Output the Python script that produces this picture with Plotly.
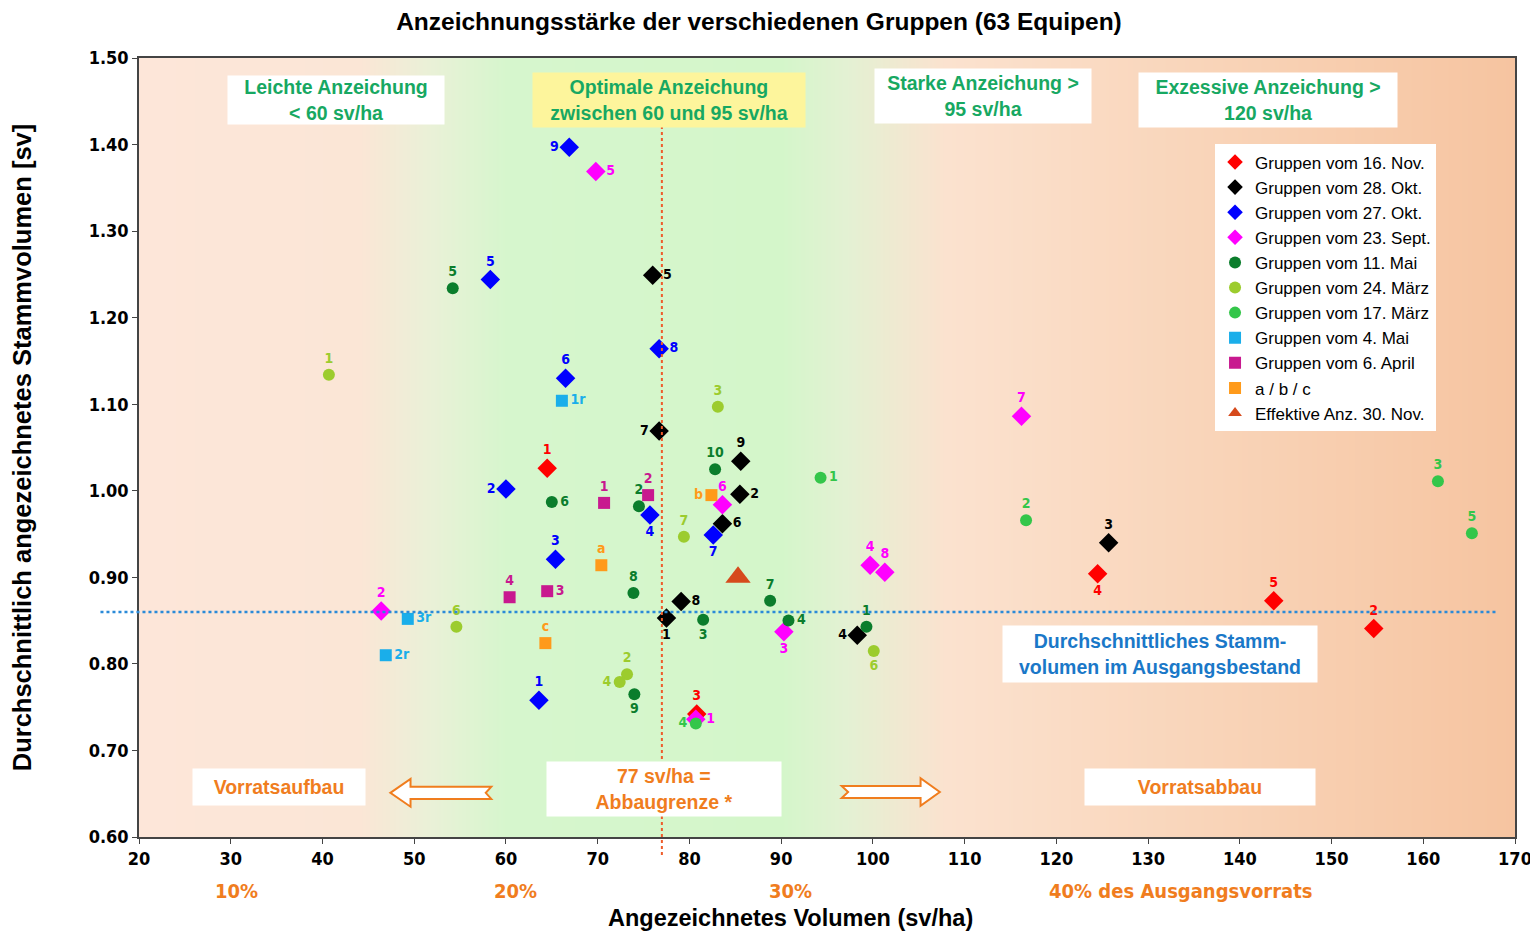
import plotly.graph_objects as go

# --- data -----------------------------------------------------------------
nov16_x = [64.5, 154.6, 80.8, 124.5, 143.7]
nov16_y = [1.026, 0.841, 0.742, 0.904, 0.873]
nov16_lbl = ["1", "2", "3", "4", "5"]

okt28_x = [77.5, 85.5, 125.7, 98.3, 76.0, 83.6, 76.7, 79.1, 85.6]
okt28_y = [0.853, 0.996, 0.940, 0.833, 1.249, 0.962, 1.069, 0.872, 1.034]
okt28_lbl = ["1", "2", "3", "4", "5", "6", "7", "8", "9"]

okt27_x = [63.6, 60.0, 65.4, 75.7, 58.3, 66.5, 82.6, 76.7, 66.9]
okt27_y = [0.758, 1.002, 0.921, 0.972, 1.244, 1.130, 0.949, 1.164, 1.397]
okt27_lbl = ["1", "2", "3", "4", "5", "6", "7", "8", "9"]

sept23_x = [80.7, 46.4, 90.3, 99.7, 69.8, 83.6, 116.2, 101.3]
sept23_y = [0.736, 0.861, 0.837, 0.914, 1.369, 0.984, 1.086, 0.906]
sept23_lbl = ["1", "2", "3", "4", "5", "6", "7", "8"]

mai11_x = [99.3, 74.5, 81.5, 90.8, 54.2, 65.0, 88.8, 73.9, 74.0, 82.8]
mai11_y = [0.843, 0.982, 0.851, 0.850, 1.234, 0.987, 0.873, 0.882, 0.765, 1.025]
mai11_lbl = ["1", "2", "3", "4", "5", "6", "7", "8", "9", "10"]

maerz24_x = [40.7, 73.2, 83.1, 72.4, 54.6, 100.1, 79.4]
maerz24_y = [1.134, 0.788, 1.097, 0.779, 0.843, 0.815, 0.947]
maerz24_lbl = ["1", "2", "3", "4", "6", "6", "7"]

maerz17_x = [94.3, 116.7, 161.6, 80.7, 165.3]
maerz17_y = [1.015, 0.966, 1.011, 0.731, 0.951]
maerz17_lbl = ["1", "2", "3", "4", "5"]

mai4_x = [66.1, 46.9, 49.3]
mai4_y = [1.104, 0.810, 0.852]
mai4_lbl = ["1r", "2r", "3r"]

april6_x = [70.7, 75.5, 64.5, 60.4]
april6_y = [0.986, 0.995, 0.884, 0.877]
april6_lbl = ["1", "2", "3", "4"]

abc_x = [70.4, 82.4, 64.3]
abc_y = [0.914, 0.995, 0.824]
abc_lbl = ["a", "b", "c"]

eff_x = [85.3]
eff_y = [0.900]

mean_stem_volume = 0.86
abbaugrenze = 77

x_ticks = list(range(20, 171, 10))
y_ticks = [0.6, 0.7, 0.8, 0.9, 1.0, 1.1, 1.2, 1.3, 1.4, 1.5]
pct_labels = [(30.6, "10%"), (61, "20%"), (91, "30%"), (119.0, "40% des Ausgangsvorrats")]

# background gradient (x position, colour)
bg_x = [20, 44, 52, 60, 90, 97, 108, 135, 170]
bg_col = ["#fde6d9", "#fbe6d6", "#e9f1d7", "#d6f6cd", "#d4f6ca", "#e3f1d3",
          "#fbe2cf", "#f9d5ba", "#f6c4a0"]

# --- style ----------------------------------------------------------------
NARROW = "Liberation Sans Narrow, Arial Narrow, DejaVu Sans Condensed, sans-serif"
SANS = "Liberation Sans, Arial, sans-serif"

series = [
    ("Gruppen vom 16. Nov.", nov16_x, nov16_y, nov16_lbl, "diamond", "#ff0000", 15,
     ["top center", "top center", "top center", "bottom center", "top center"]),
    ("Gruppen vom 28. Okt.", okt28_x, okt28_y, okt28_lbl, "diamond", "#000000", 15,
     ["bottom center", "middle right", "top center", "middle left", "middle right",
      "middle right", "middle left", "middle right", "top center"]),
    ("Gruppen vom 27. Okt.", okt27_x, okt27_y, okt27_lbl, "diamond", "#0000ff", 15,
     ["top center", "middle left", "top center", "bottom center", "top center",
      "top center", "bottom center", "middle right", "middle left"]),
    ("Gruppen vom 23. Sept.", sept23_x, sept23_y, sept23_lbl, "diamond", "#ff00ff", 15,
     ["middle right", "top center", "bottom center", "top center", "middle right",
      "top center", "top center", "top center"]),
    ("Gruppen vom 11. Mai", mai11_x, mai11_y, mai11_lbl, "circle", "#0b7d2c", 12,
     ["top center", "top center", "bottom center", "middle right", "top center",
      "middle right", "top center", "top center", "bottom center", "top center"]),
    ("Gruppen vom 24. März", maerz24_x, maerz24_y, maerz24_lbl, "circle", "#9ccc2e", 12,
     ["top center", "top center", "top center", "middle left", "top center",
      "bottom center", "top center"]),
    ("Gruppen vom 17. März", maerz17_x, maerz17_y, maerz17_lbl, "circle", "#34c64a", 12,
     ["middle right", "top center", "top center", "middle left", "top center"]),
    ("Gruppen vom 4. Mai", mai4_x, mai4_y, mai4_lbl, "square", "#1aaeea", 12,
     ["middle right", "middle right", "middle right"]),
    ("Gruppen vom 6. April", april6_x, april6_y, april6_lbl, "square", "#c8198f", 12,
     ["top center", "top center", "middle right", "top center"]),
    ("a / b / c", abc_x, abc_y, abc_lbl, "square", "#ff9a1a", 12,
     ["top center", "middle left", "top center"]),
]

fig = go.Figure()

# background
fig.add_trace(go.Heatmap(
    x=bg_x, y=[0.6, 1.5], z=[bg_x, bg_x],
    colorscale=[[(v - 20) / 150, c] for v, c in zip(bg_x, bg_col)],
    zsmooth="best", showscale=False, hoverinfo="skip", showlegend=False,
))

for name, xs, ys, lbl, sym, col, size, pos in series:
    fig.add_trace(go.Scatter(
        x=xs, y=ys, name=name, mode="markers+text", text=lbl,
        textposition=pos,
        textfont=dict(family=NARROW, size=14, color=col, weight="bold"),
        marker=dict(symbol=sym, color=col, size=size),
        cliponaxis=False,
    ))

fig.add_trace(go.Scatter(
    x=eff_x, y=eff_y, name="Effektive Anz. 30. Nov.", mode="markers",
    marker=dict(symbol="triangle-up", color="#d64a1c", size=22),
))

# reference lines
fig.add_shape(type="line", xref="paper", yref="y", x0=-0.028, x1=0.986,
              y0=mean_stem_volume, y1=mean_stem_volume,
              line=dict(color="#2a8ad8", width=2.5, dash="dot"), layer="above")
fig.add_shape(type="line", xref="x", yref="paper", x0=abbaugrenze, x1=abbaugrenze,
              y0=-0.023, y1=0.915,
              line=dict(color="#ef5c2a", width=2, dash="dot"), layer="above")

# hollow arrows
ARROW_LINE = dict(color="#f07d1e", width=2)
fig.add_shape(type="path", xref="x", yref="y", fillcolor="white", line=ARROW_LINE,
              path="M 47.4,0.651 L 49.6,0.667 L 49.6,0.658 L 58.4,0.658 L 57.8,0.651 "
                   "L 58.4,0.644 L 49.6,0.644 L 49.6,0.635 Z")
fig.add_shape(type="path", xref="x", yref="y", fillcolor="white", line=ARROW_LINE,
              path="M 107.3,0.652 L 105.2,0.668 L 105.2,0.659 L 96.6,0.659 L 97.3,0.652 "
                   "L 96.6,0.645 L 105.2,0.645 L 105.2,0.636 Z")

# text boxes
GREEN = "#17a862"
boxes = [
    (41.5, 1.451, "Leichte Anzeichung<br>< 60 sv/ha", GREEN, "white", 212, 44),
    (77.8, 1.451, "Optimale Anzeichung<br>zwischen 60 und 95 sv/ha", GREEN, "#fdf59c", 268, 50),
    (112.0, 1.456, "Starke Anzeichung ><br>95 sv/ha", GREEN, "white", 212, 50),
    (143.1, 1.451, "Exzessive Anzeichung ><br>120 sv/ha", GREEN, "white", 254, 50),
    (131.3, 0.811, "Durchschnittliches Stamm-<br>volumen im Ausgangsbestand", "#1a78c8", "white", 310, 52),
    (35.3, 0.658, "Vorratsaufbau", "#f07d1e", "white", 168, 32),
    (77.2, 0.655, "77 sv/ha =<br>Abbaugrenze *", "#f07d1e", "white", 230, 50),
    (135.7, 0.658, "Vorratsabbau", "#f07d1e", "white", 226, 32),
]
for bx, by, txt, col, bg, w, h in boxes:
    fig.add_annotation(x=bx, y=by, xref="x", yref="y", text="<b>" + txt + "</b>",
                       showarrow=False, bgcolor=bg, width=w, height=h, borderpad=2,
                       font=dict(family=SANS, size=19.5, color=col))

for px, txt in pct_labels:
    fig.add_annotation(x=px, y=-0.069, xref="x", yref="paper", text="<b>" + txt + "</b>",
                       showarrow=False, yanchor="middle",
                       xanchor="center" if len(txt) < 5 else "left",
                       font=dict(family=NARROW, size=20, color="#f07d1e"))

# x axis title as an annotation so it sits below the percentage row
fig.add_annotation(x=0.4735, y=-0.1045, xref="paper", yref="paper", showarrow=False,
                   yanchor="middle", text="<b>Angezeichnetes Volumen (sv/ha)</b>",
                   font=dict(family=SANS, size=23.5, color="black"))

# the page body adds an 8px margin, so the figure is a bit smaller than the window
fig.update_layout(
    width=1522, height=923,
    margin=dict(l=131, r=15, t=50, b=94),
    paper_bgcolor="white", plot_bgcolor="white",
    title=dict(text="<b>Anzeichnungsstärke der verschiedenen Gruppen (63 Equipen)</b>",
               x=0.4934, xanchor="center", y=0.986, yanchor="middle",
               font=dict(family=SANS, size=24.5, color="black")),
    legend=dict(x=0.782, y=0.889, xanchor="left", yanchor="top",
                bgcolor="white", borderwidth=0, tracegroupgap=0,
                font=dict(family=SANS, size=17, color="black"),
                itemsizing="constant"),
    xaxis=dict(range=[20, 170], tickvals=x_ticks, showgrid=False, zeroline=False,
               showline=True, linecolor="#444", mirror=True, linewidth=1.5,
               ticks="outside", ticklen=5, tickcolor="#444", automargin=False,
               ticklabeloverflow="allow",
               tickfont=dict(family=NARROW, size=18, color="black", weight="bold")),
    yaxis=dict(range=[0.6, 1.5], tickvals=y_ticks, tickformat=".2f", showgrid=False,
               zeroline=False, showline=True, linecolor="#444", mirror=True, linewidth=1.5,
               ticks="outside", ticklen=5, tickcolor="#444", automargin=False,
               tickfont=dict(family=NARROW, size=18, color="black", weight="bold"),
               title=dict(text="<b>Durchschnittlich angezeichnetes Stammvolumen [sv]</b>",
                          standoff=55, font=dict(family=SANS, size=25.5, color="black"))),
)

fig.write_html("out.html")
